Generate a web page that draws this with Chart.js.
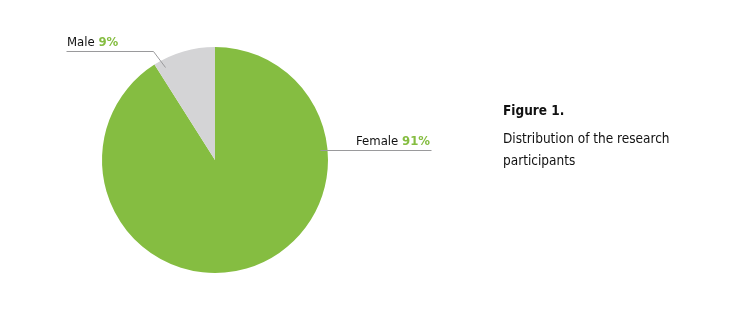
<!DOCTYPE html>
<html>
<head>
<meta charset="utf-8">
<script src="https://cdn.jsdelivr.net/npm/chart.js@4.4.1/dist/chart.umd.min.js"></script>
<style>
  html, body { margin: 0; padding: 0; background: #fff; }
  #wrap { width: 750px; height: 309px; position: relative; }
</style>
</head>
<body>
<div id="wrap"><canvas id="pie"></canvas></div>
<script>
const categories = ['Female', 'Male'];
const shares = [91, 9];
const sliceColors = ['#85bd41', '#d4d4d6'];
const titleLines = ['Figure 1.', 'Distribution of the research', 'participants'];

const FONT = "'DejaVu Sans Condensed', 'Liberation Sans Narrow', sans-serif";

// leader lines: where inside the slice the line ends (fraction of slice span, fraction of radius),
// where the elbow sits and where the horizontal part ends
const leaders = [
    { at: 0.258, r: 0.934, elbowDx: 0, endX: 431, align: 'right' },
    { at: 0.13, r: 0.935, elbowDx: -12, elbowDy: -16, endX: 66, align: 'left' }
];

const labelPlugin = {
    id: 'labels',
    afterDraw(chart) {
        const ctx = chart.ctx;
        const arcs = chart.getDatasetMeta(0).data;
        ctx.save();
        arcs.forEach((arc, i) => {
            const p = arc.getProps(['x', 'y', 'startAngle', 'endAngle', 'outerRadius'], true);
            const L = leaders[i];
            const a = p.startAngle + (p.endAngle - p.startAngle) * L.at;
            const ax = p.x + Math.cos(a) * p.outerRadius * L.r;
            const ay = p.y + Math.sin(a) * p.outerRadius * L.r;
            const ex = ax + (L.elbowDx || 0);
            const ey = ay + (L.elbowDy || 0);

            ctx.strokeStyle = '#9a9a9c';
            ctx.lineWidth = 1;
            ctx.beginPath();
            ctx.moveTo(Math.round(ax) + 0.5, Math.round(ay) + 0.5);
            ctx.lineTo(Math.round(ex) + 0.5, Math.round(ey) + 0.5);
            ctx.lineTo(L.endX + 0.5, Math.round(ey) + 0.5);
            ctx.stroke();

            const name = categories[i] + ' ';
            const pct = shares[i] + '%';
            ctx.textBaseline = 'alphabetic';
            ctx.font = '13px ' + FONT;
            const w1 = ctx.measureText(name).width;
            ctx.font = 'bold 13px ' + FONT;
            const w2 = ctx.measureText(pct).width;
            let x = L.align === 'right' ? L.endX - 1 - w1 - w2 : L.endX + 1;
            const y = Math.round(ey) - 5;
            ctx.textAlign = 'left';
            ctx.font = '13px ' + FONT;
            ctx.fillStyle = '#111';
            ctx.fillText(name, x, y);
            ctx.font = 'bold 13px ' + FONT;
            ctx.fillStyle = sliceColors[0];
            ctx.fillText(pct, x + w1, y);
        });

        ctx.fillStyle = '#111';
        ctx.textAlign = 'left';
        ctx.font = 'bold 13.5px ' + FONT;
        ctx.fillText(titleLines[0], 503, 115);
        ctx.font = '13.5px ' + FONT;
        ctx.fillText(titleLines[1], 503, 143);
        ctx.fillText(titleLines[2], 503, 165);
        ctx.restore();
    }
};

new Chart(document.getElementById('pie'), {
    type: 'pie',
    data: {
        labels: categories,
        datasets: [{
            data: shares,
            backgroundColor: sliceColors,
            borderWidth: 0
        }]
    },
    options: {
        responsive: true,
        maintainAspectRatio: false,
        animation: false,
        layout: { padding: { left: 102, right: 422, top: 47, bottom: 36 } },
        plugins: {
            legend: { display: false },
            tooltip: { enabled: false }
        }
    },
    plugins: [labelPlugin]
});
</script>
</body>
</html>
